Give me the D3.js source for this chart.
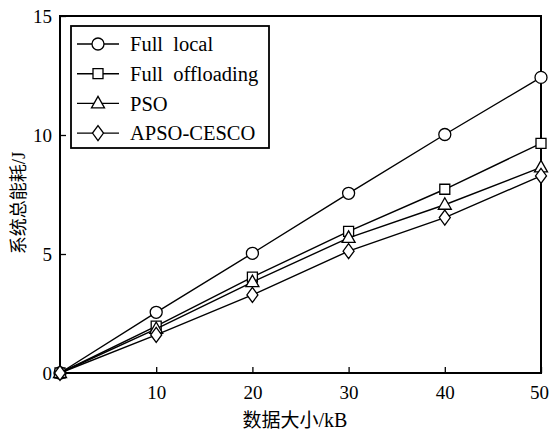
<!DOCTYPE html>
<html>
<head>
<meta charset="utf-8">
<script src="https://cdn.jsdelivr.net/npm/d3@7"></script>
<style>
  html, body { margin: 0; padding: 0; background: #fff; }
  svg { display: block; }
  text { font-family: "Liberation Serif", "Times New Roman", serif; fill: #000; }
  .cjk { font-family: "Noto Sans CJK SC", sans-serif; }
  .lat { font-family: "Liberation Serif", "Times New Roman", serif; }
</style>
</head>
<body>
<svg id="chart" width="553" height="434"></svg>
<script>
// Data size (kB) on the x axis
const dataSizes = [0, 10, 20, 30, 40, 50];
// Total system energy consumption (J) per strategy
const fullLocal      = [0, 2.55, 5.03, 7.55, 10.02, 12.42];
const fullOffloading = [0, 1.97, 4.03, 5.95, 7.72, 9.65];
const pso            = [0, 1.85, 3.82, 5.68, 7.07, 8.64];
const apsoCesco      = [0, 1.60, 3.28, 5.12, 6.53, 8.28];

const seriesNames = ["Full  local", "Full  offloading", "PSO", "APSO-CESCO"];
const seriesMarkers = ["circle", "square", "triangle", "diamond"];
const xTicks = [10, 20, 30, 40, 50];
const yTicks = [0, 5, 10, 15];

const series = [fullLocal, fullOffloading, pso, apsoCesco].map((vals, i) => ({
  name: seriesNames[i],
  marker: seriesMarkers[i],
  points: vals.map((v, j) => ({ x: dataSizes[j], y: v }))
}));

const svg = d3.select("#chart");
const m = { left: 60, right: 12, top: 16, bottom: 61 };
const W = 553, H = 434;
const x = d3.scaleLinear().domain([0, 50]).range([m.left, W - m.right]);
const y = d3.scaleLinear().domain([0, 15]).range([H - m.bottom, m.top]);

// Inward ticks on bottom and left
const xAxis = svg.append("g")
  .attr("transform", `translate(0,${y(0)})`)
  .call(d3.axisBottom(x).tickValues(xTicks).tickSize(-6).tickPadding(13).tickFormat(d3.format("d")));
xAxis.select(".domain").remove();
xAxis.selectAll("line").attr("stroke", "#000").attr("stroke-width", 1.3);
xAxis.selectAll("text").attr("font-size", 19).attr("dy", "0.71em")
  .filter(d => d === 50).attr("dx", "-2");

const yAxis = svg.append("g")
  .attr("transform", `translate(${x(0)},0)`)
  .call(d3.axisLeft(y).tickValues(yTicks).tickSize(-6).tickPadding(8).tickFormat(d3.format("d")));
yAxis.select(".domain").remove();
yAxis.selectAll("line").attr("stroke", "#000").attr("stroke-width", 1.3);
yAxis.selectAll("text").attr("font-size", 19);

// Plot frame
svg.append("rect")
  .attr("x", x(0)).attr("y", y(15))
  .attr("width", x(50) - x(0)).attr("height", y(0) - y(15))
  .attr("fill", "none").attr("stroke", "#000").attr("stroke-width", 2);

// Marker path generators
function markerPath(type, cx, cy) {
  const p = d3.path();
  if (type === "circle") {
    p.moveTo(cx + 6, cy); p.arc(cx, cy, 6, 0, 2 * Math.PI);
  } else if (type === "square") {
    p.rect(cx - 5, cy - 5, 10, 10);
  } else if (type === "triangle") {
    p.moveTo(cx, cy - 7); p.lineTo(cx + 6.5, cy + 4.5); p.lineTo(cx - 6.5, cy + 4.5); p.closePath();
  } else {
    p.moveTo(cx, cy - 7.5); p.lineTo(cx + 5.5, cy); p.lineTo(cx, cy + 7.5); p.lineTo(cx - 5.5, cy); p.closePath();
  }
  return p.toString();
}

const line = d3.line().x(d => x(d.x)).y(d => y(d.y));

series.forEach(s => {
  const g = svg.append("g");
  g.append("path").datum(s.points).attr("d", line)
    .attr("fill", "none").attr("stroke", "#000").attr("stroke-width", 1.4);
  g.selectAll("path.mk").data(s.points).join("path").attr("class", "mk")
    .attr("d", d => markerPath(s.marker, x(d.x), y(d.y)))
    .attr("fill", "#fff").attr("stroke", "#000").attr("stroke-width", 1.3);
});

// Legend
const lg = svg.append("g");
lg.append("rect").attr("x", 71).attr("y", 26).attr("width", 198).attr("height", 122)
  .attr("fill", "#fff").attr("stroke", "#000").attr("stroke-width", 1.8);
series.forEach((s, i) => {
  const cy = 44 + i * 29.7;
  lg.append("line").attr("x1", 77).attr("x2", 119).attr("y1", cy).attr("y2", cy)
    .attr("stroke", "#000").attr("stroke-width", 1.4);
  lg.append("path").attr("d", markerPath(s.marker, 98, cy))
    .attr("fill", "#fff").attr("stroke", "#000").attr("stroke-width", 1.3);
  lg.append("text").attr("x", 130).attr("y", cy).attr("dy", "0.35em")
    .attr("font-size", 20.5).attr("xml:space", "preserve").style("white-space", "pre")
    .text(s.name);
});

// Axis titles: Chinese in CJK font, units in serif
const xTitle = svg.append("text")
  .attr("x", 295).attr("y", 421).attr("dy", "0.35em")
  .attr("text-anchor", "middle");
xTitle.append("tspan").attr("class", "cjk").attr("font-size", 19).text("数据大小");
xTitle.append("tspan").attr("class", "lat").attr("font-size", 20).text("/kB");

const yTitle = svg.append("text")
  .attr("transform", "translate(19,203) rotate(-90)")
  .attr("text-anchor", "middle").attr("dy", "0.35em");
yTitle.append("tspan").attr("class", "cjk").attr("font-size", 18).text("系统总能耗");
yTitle.append("tspan").attr("class", "lat").attr("font-size", 19).text("/J");
</script>
</body>
</html>
